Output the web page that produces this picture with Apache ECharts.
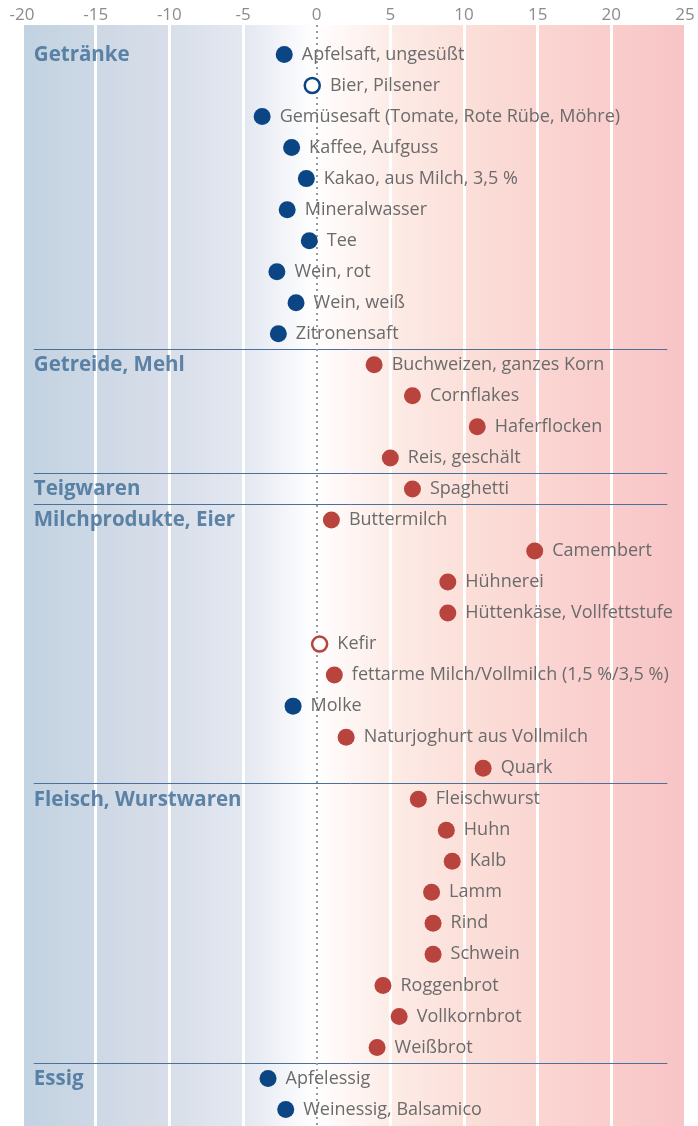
<!DOCTYPE html>
<html><head><meta charset="utf-8">
<script src="https://cdn.jsdelivr.net/npm/echarts@6/dist/echarts.min.js"></script>
<style>html,body{margin:0;padding:0;background:#fff}#c{width:698px;height:1126px}</style>
</head><body><div id="c"></div>
<script>
const items = ['Apfelsaft, ungesüßt','Bier, Pilsener','Gemüsesaft (Tomate, Rote Rübe, Möhre)','Kaffee, Aufguss','Kakao, aus Milch, 3,5 %','Mineralwasser','Tee','Wein, rot','Wein, weiß','Zitronensaft',
 'Buchweizen, ganzes Korn','Cornflakes','Haferflocken','Reis, geschält',
 'Spaghetti',
 'Buttermilch','Camembert','Hühnerei','Hüttenkäse, Vollfettstufe','Kefir','fettarme Milch/Vollmilch (1,5 %/3,5 %)','Molke','Naturjoghurt aus Vollmilch','Quark',
 'Fleischwurst','Huhn','Kalb','Lamm','Rind','Schwein','Roggenbrot','Vollkornbrot','Weißbrot',
 'Apfelessig','Weinessig, Balsamico'];
const values = [-2.2,-0.3,-3.7,-1.7,-0.7,-2.0,-0.5,-2.7,-1.4,-2.6,
 3.9,6.5,10.9,5.0,
 6.5,
 1.0,14.8,8.9,8.9,0.2,1.2,-1.6,2.0,11.3,
 6.9,8.8,9.2,7.8,7.9,7.9,4.5,5.6,4.1,
 -3.3,-2.1];
const hollowItems = ['Bier, Pilsener','Kefir'];
const groupNames = ['Getränke','Getreide, Mehl','Teigwaren','Milchprodukte, Eier','Fleisch, Wurstwaren','Essig'];
const groupStarts = [0,10,14,15,24,33];

const BLUE='#0b4584', RED='#b8443d';
const xMin=-20, xMax=25;
const headerX=-19.2, sepEndX=23.8;
const rowPx=31.03, gridTop=25, gridH=1101;
const yMin=-(54.5-gridTop)/rowPx, yMax=yMin+gridH/rowPx;
const FONT='Open Sans';

function pts(filterFn){
  const d=[];
  items.forEach((n,i)=>{ if(filterFn(n,values[i])) d.push([values[i], i, n]); });
  return d;
}
const labelCfg={show:true,position:'right',distance:9,formatter:p=>p.data[2],color:'#6b6b6b',fontSize:18,fontFamily:FONT};
function ser(data,color,hollow){
  return {type:'scatter',data:data,symbol:'circle',symbolSize:hollow?15:17,
    itemStyle:hollow?{color:'#fff',borderColor:color,borderWidth:2.5,opacity:1}:{color:color,opacity:1},
    label:labelCfg,emphasis:{disabled:true},z:5};
}
const isH=n=>hollowItems.includes(n);
const chart=echarts.init(document.getElementById('c'),null,{renderer:'canvas'});
chart.setOption({
  animation:false,
  grid:{left:22,right:13,top:gridTop,height:gridH,show:true,borderWidth:0,
    backgroundColor:new echarts.graphic.LinearGradient(0,0,1,0,[
      {offset:0,color:'#c2d2e1'},{offset:0.2,color:'#d6dde8'},{offset:0.34,color:'#e4e8f1'},{offset:0.44,color:'#ffffff'},
      {offset:0.56,color:'#fdebe6'},{offset:0.7,color:'#fbdcd6'},{offset:1,color:'#f8c4c6'}])},
  xAxis:{type:'value',position:'top',min:xMin,max:xMax,interval:5,
    axisLine:{show:false},axisTick:{show:false},
    axisLabel:{color:'#8c8c8c',fontSize:17,fontFamily:FONT,margin:1},
    splitLine:{show:true,lineStyle:{color:'#ffffff',width:3}}},
  yAxis:{type:'value',inverse:true,min:yMin,max:yMax,show:false},
  series:[
    {type:'scatter',data:groupNames.map((g,i)=>[headerX,groupStarts[i],g]),symbolSize:0,silent:true,
     label:{show:true,position:'right',distance:0,offset:[0,0.5],formatter:p=>p.data[2],color:'#3c6c95',fontSize:20.5,fontWeight:'bold',fontFamily:FONT},
     markLine:{silent:true,symbol:'none',label:{show:false},lineStyle:{color:'#4a7199',width:1,type:'solid'},
       data:groupStarts.slice(1).map(s=>[{coord:[headerX,s-0.5]},{coord:[sepEndX,s-0.5]}])},
     z:3},
    {type:'scatter',data:[],markLine:{silent:true,symbol:'none',label:{show:false},lineStyle:{color:'#9a9a9a',width:2,type:[2,4]},data:[{xAxis:0}]},z:2},
    ser(pts((n,v)=>v<0&&!isH(n)),BLUE,false),
    ser(pts((n,v)=>v<0&&isH(n)),BLUE,true),
    ser(pts((n,v)=>v>=0&&!isH(n)),RED,false),
    ser(pts((n,v)=>v>=0&&isH(n)),RED,true)
  ]
});
</script></body></html>
